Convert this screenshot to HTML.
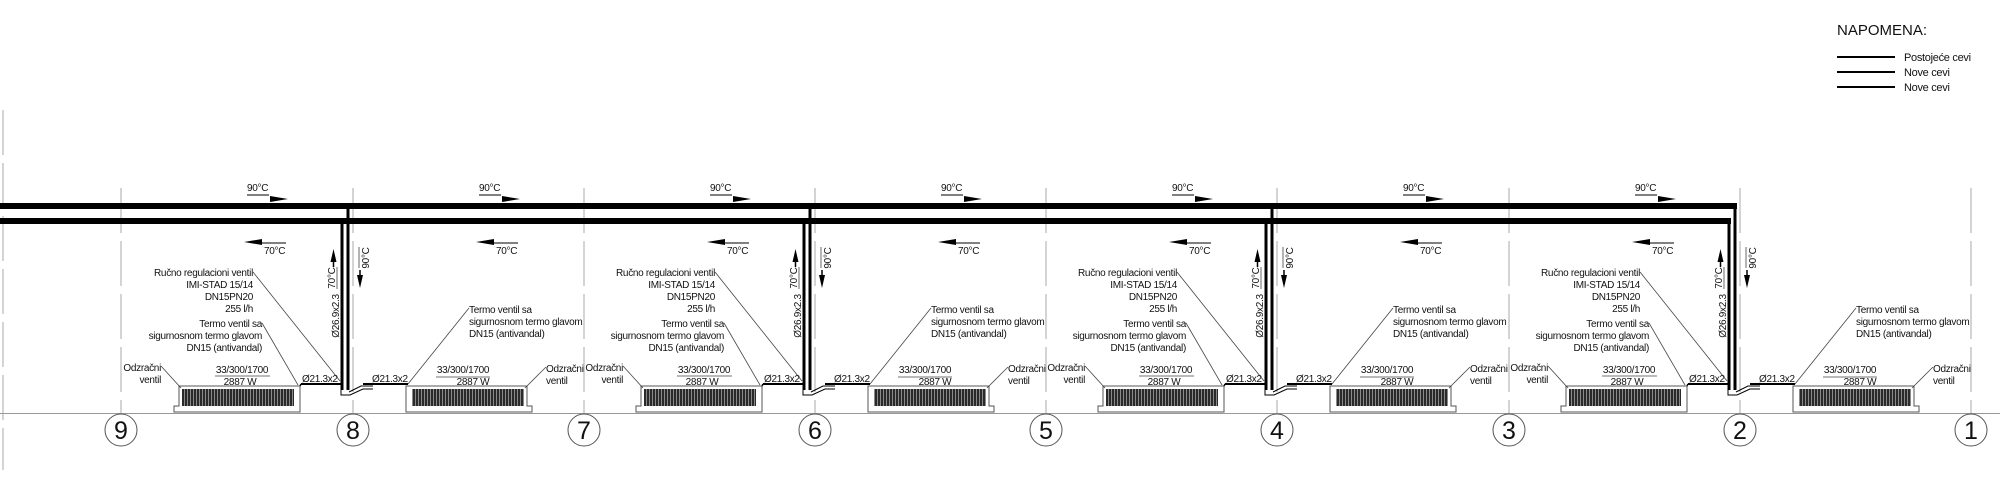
<!DOCTYPE html>
<html><head><meta charset="utf-8"><style>
html,body{margin:0;padding:0;background:#fff}
svg{display:block}
text{font-family:"Liberation Sans",sans-serif;font-size:10px;letter-spacing:-0.3px;fill:#111}
</style></head><body>
<svg width="2000" height="486" viewBox="0 0 2000 486" xmlns="http://www.w3.org/2000/svg">
<defs>
<pattern id="h" width="3" height="10" patternUnits="userSpaceOnUse"><rect width="3" height="10" fill="#2a2a2a"/><rect x="2" width="1" height="10" fill="#8a8a8a"/></pattern>
</defs>
<g stroke="#aaa" stroke-width="1" stroke-dasharray="45 8">
<line x1="3" y1="110" x2="3" y2="470"/>
<line x1="121" y1="188" x2="121" y2="413"/><line x1="353" y1="188" x2="353" y2="413"/><line x1="584" y1="188" x2="584" y2="413"/><line x1="815" y1="188" x2="815" y2="413"/><line x1="1046" y1="188" x2="1046" y2="413"/><line x1="1277" y1="188" x2="1277" y2="413"/><line x1="1509" y1="188" x2="1509" y2="413"/><line x1="1740" y1="188" x2="1740" y2="413"/><line x1="1971" y1="188" x2="1971" y2="413"/>
</g>
<line x1="0" y1="413.5" x2="2000" y2="413.5" stroke="#999" stroke-width="1"/>
<g fill="#fff" stroke="#555" stroke-width="1">
<circle cx="121" cy="430" r="16"/><circle cx="353" cy="430" r="16"/><circle cx="584" cy="430" r="16"/><circle cx="815" cy="430" r="16"/><circle cx="1046" cy="430" r="16"/><circle cx="1277" cy="430" r="16"/><circle cx="1509" cy="430" r="16"/><circle cx="1740" cy="430" r="16"/><circle cx="1971" cy="430" r="16"/>
</g>
<g text-anchor="middle">
<text x="121" y="439" style="font-size:25px;letter-spacing:0">9</text><text x="353" y="439" style="font-size:25px;letter-spacing:0">8</text><text x="584" y="439" style="font-size:25px;letter-spacing:0">7</text><text x="815" y="439" style="font-size:25px;letter-spacing:0">6</text><text x="1046" y="439" style="font-size:25px;letter-spacing:0">5</text><text x="1277" y="439" style="font-size:25px;letter-spacing:0">4</text><text x="1509" y="439" style="font-size:25px;letter-spacing:0">3</text><text x="1740" y="439" style="font-size:25px;letter-spacing:0">2</text><text x="1971" y="439" style="font-size:25px;letter-spacing:0">1</text>
</g>
<rect x="0" y="203" width="1737" height="6" fill="#000"/>
<rect x="0" y="218" width="1731" height="6" fill="#000"/>
<text x="1837" y="35" style="font-size:15px;letter-spacing:0">NAPOMENA:</text>
<g stroke="#000" stroke-width="2"><line x1="1837" y1="57" x2="1895" y2="57"/><line x1="1837" y1="72" x2="1895" y2="72"/><line x1="1837" y1="87" x2="1895" y2="87"/></g>
<text x="1904" y="61" style="font-size:11px">Postojeće cevi</text>
<text x="1904" y="76" style="font-size:11px">Nove cevi</text>
<text x="1904" y="91" style="font-size:11px">Nove cevi</text>

<g transform="translate(121,0)"><text x="126" y="191">90°C</text><line x1="126" y1="195" x2="148" y2="195" stroke="#000"/><polygon points="149,196 167,199 149,202" fill="#000"/><polygon points="123,242 141,239 141,245" fill="#000"/><line x1="141" y1="243" x2="165" y2="243" stroke="#000"/><text x="143" y="254">70°C</text></g>
<g transform="translate(353,0)"><text x="126" y="191">90°C</text><line x1="126" y1="195" x2="148" y2="195" stroke="#000"/><polygon points="149,196 167,199 149,202" fill="#000"/><polygon points="123,242 141,239 141,245" fill="#000"/><line x1="141" y1="243" x2="165" y2="243" stroke="#000"/><text x="143" y="254">70°C</text></g>
<g transform="translate(584,0)"><text x="126" y="191">90°C</text><line x1="126" y1="195" x2="148" y2="195" stroke="#000"/><polygon points="149,196 167,199 149,202" fill="#000"/><polygon points="123,242 141,239 141,245" fill="#000"/><line x1="141" y1="243" x2="165" y2="243" stroke="#000"/><text x="143" y="254">70°C</text></g>
<g transform="translate(815,0)"><text x="126" y="191">90°C</text><line x1="126" y1="195" x2="148" y2="195" stroke="#000"/><polygon points="149,196 167,199 149,202" fill="#000"/><polygon points="123,242 141,239 141,245" fill="#000"/><line x1="141" y1="243" x2="165" y2="243" stroke="#000"/><text x="143" y="254">70°C</text></g>
<g transform="translate(1046,0)"><text x="126" y="191">90°C</text><line x1="126" y1="195" x2="148" y2="195" stroke="#000"/><polygon points="149,196 167,199 149,202" fill="#000"/><polygon points="123,242 141,239 141,245" fill="#000"/><line x1="141" y1="243" x2="165" y2="243" stroke="#000"/><text x="143" y="254">70°C</text></g>
<g transform="translate(1277,0)"><text x="126" y="191">90°C</text><line x1="126" y1="195" x2="148" y2="195" stroke="#000"/><polygon points="149,196 167,199 149,202" fill="#000"/><polygon points="123,242 141,239 141,245" fill="#000"/><line x1="141" y1="243" x2="165" y2="243" stroke="#000"/><text x="143" y="254">70°C</text></g>
<g transform="translate(1509,0)"><text x="126" y="191">90°C</text><line x1="126" y1="195" x2="148" y2="195" stroke="#000"/><polygon points="149,196 167,199 149,202" fill="#000"/><polygon points="123,242 141,239 141,245" fill="#000"/><line x1="141" y1="243" x2="165" y2="243" stroke="#000"/><text x="143" y="254">70°C</text></g>

<defs>
<g id="geo">
<line x1="-11" y1="222" x2="-11" y2="390" stroke="#000" stroke-width="3"/>
<line x1="-5" y1="207" x2="-5" y2="390" stroke="#000" stroke-width="3"/>
<path d="M-12,383 V395 H-3 L10,389 H20" fill="none" stroke="#000" stroke-width="1"/>
<path d="M-4,392 L8,386 H20" fill="none" stroke="#000" stroke-width="1"/>
<line x1="-52" y1="384" x2="-11" y2="384" stroke="#000" stroke-width="2"/>
<line x1="-52" y1="384" x2="-54" y2="388" stroke="#000" stroke-width="1.5"/>
<line x1="10" y1="384" x2="55" y2="384" stroke="#000" stroke-width="2"/>
<path d="M53,386 H174 V406 H179 V412 H53 Z" fill="#fff" stroke="#555" stroke-width="1"/>
<rect x="59" y="389" width="112" height="17" fill="url(#h)"/>
<path d="M-53,386 H-174 V406 H-179 V412 H-53 Z" fill="#fff" stroke="#555" stroke-width="1"/>
<rect x="-171" y="389" width="112" height="17" fill="url(#h)"/>
<g stroke="#444" stroke-width="0.8">
<line x1="-100" y1="272" x2="-13" y2="381"/>
<line x1="-91" y1="323" x2="-55" y2="385"/>
<line x1="-192" y1="366" x2="-172" y2="388"/>
<line x1="116" y1="308" x2="55" y2="384"/>
<line x1="193" y1="367" x2="172" y2="388"/>
<line x1="-138" y1="376" x2="-83" y2="376"/>
<line x1="83" y1="377" x2="137" y2="377"/>
<line x1="-16" y1="267" x2="-16" y2="289"/>
<line x1="6" y1="247" x2="6" y2="268"/>
</g>
<polygon points="-19.5,249 -22.5,262 -16.5,262" fill="#000"/><line x1="-19.5" y1="260" x2="-19.5" y2="267" stroke="#000" stroke-width="1.5"/>
<polygon points="7,288 4,275 10,275" fill="#000"/><line x1="7" y1="270" x2="7" y2="277" stroke="#000" stroke-width="1.5"/>
</g>
</defs>
<use href="#geo" x="353" y="0"/>
<use href="#geo" x="815" y="0"/>
<use href="#geo" x="1277" y="0"/>
<use href="#geo" x="1740" y="0"/>

<g transform="translate(353,0)">
<g text-anchor="end"><text x="-100" y="276">Ručno regulacioni ventil</text><text x="-100" y="288">IMI-STAD 15/14</text><text x="-100" y="300">DN15PN20</text><text x="-100" y="312">255 l/h</text>
<text x="-91" y="327">Termo ventil sa</text><text x="-91" y="339">sigurnosnom termo glavom</text><text x="-91" y="351">DN15 (antivandal)</text>
<text x="-192" y="371">Odzračni</text><text x="-192" y="383">ventil</text></g>
<g text-anchor="middle"><text x="-111" y="373">33/300/1700</text><text x="-113" y="385">2887 W</text><text x="110" y="373">33/300/1700</text><text x="120" y="385">2887 W</text></g>
<text x="116" y="313">Termo ventil sa</text><text x="116" y="325">sigurnosnom termo glavom</text><text x="116" y="337">DN15 (antivandal)</text>
<text x="193" y="372">Odzračni</text><text x="193" y="384">ventil</text>
<text x="-51" y="382">Ø21.3x2</text><text x="19" y="382">Ø21.3x2</text>
<text transform="translate(-14,316) rotate(-90)" text-anchor="middle">Ø26.9x2.3</text>
<text transform="translate(-18,278) rotate(-90)" text-anchor="middle">70°C</text>
<text transform="translate(16,258) rotate(-90)" text-anchor="middle">90°C</text>
</g>
<g transform="translate(815,0)">
<g text-anchor="end"><text x="-100" y="276">Ručno regulacioni ventil</text><text x="-100" y="288">IMI-STAD 15/14</text><text x="-100" y="300">DN15PN20</text><text x="-100" y="312">255 l/h</text>
<text x="-91" y="327">Termo ventil sa</text><text x="-91" y="339">sigurnosnom termo glavom</text><text x="-91" y="351">DN15 (antivandal)</text>
<text x="-192" y="371">Odzračni</text><text x="-192" y="383">ventil</text></g>
<g text-anchor="middle"><text x="-111" y="373">33/300/1700</text><text x="-113" y="385">2887 W</text><text x="110" y="373">33/300/1700</text><text x="120" y="385">2887 W</text></g>
<text x="116" y="313">Termo ventil sa</text><text x="116" y="325">sigurnosnom termo glavom</text><text x="116" y="337">DN15 (antivandal)</text>
<text x="193" y="372">Odzračni</text><text x="193" y="384">ventil</text>
<text x="-51" y="382">Ø21.3x2</text><text x="19" y="382">Ø21.3x2</text>
<text transform="translate(-14,316) rotate(-90)" text-anchor="middle">Ø26.9x2.3</text>
<text transform="translate(-18,278) rotate(-90)" text-anchor="middle">70°C</text>
<text transform="translate(16,258) rotate(-90)" text-anchor="middle">90°C</text>
</g>
<g transform="translate(1277,0)">
<g text-anchor="end"><text x="-100" y="276">Ručno regulacioni ventil</text><text x="-100" y="288">IMI-STAD 15/14</text><text x="-100" y="300">DN15PN20</text><text x="-100" y="312">255 l/h</text>
<text x="-91" y="327">Termo ventil sa</text><text x="-91" y="339">sigurnosnom termo glavom</text><text x="-91" y="351">DN15 (antivandal)</text>
<text x="-192" y="371">Odzračni</text><text x="-192" y="383">ventil</text></g>
<g text-anchor="middle"><text x="-111" y="373">33/300/1700</text><text x="-113" y="385">2887 W</text><text x="110" y="373">33/300/1700</text><text x="120" y="385">2887 W</text></g>
<text x="116" y="313">Termo ventil sa</text><text x="116" y="325">sigurnosnom termo glavom</text><text x="116" y="337">DN15 (antivandal)</text>
<text x="193" y="372">Odzračni</text><text x="193" y="384">ventil</text>
<text x="-51" y="382">Ø21.3x2</text><text x="19" y="382">Ø21.3x2</text>
<text transform="translate(-14,316) rotate(-90)" text-anchor="middle">Ø26.9x2.3</text>
<text transform="translate(-18,278) rotate(-90)" text-anchor="middle">70°C</text>
<text transform="translate(16,258) rotate(-90)" text-anchor="middle">90°C</text>
</g>
<g transform="translate(1740,0)">
<g text-anchor="end"><text x="-100" y="276">Ručno regulacioni ventil</text><text x="-100" y="288">IMI-STAD 15/14</text><text x="-100" y="300">DN15PN20</text><text x="-100" y="312">255 l/h</text>
<text x="-91" y="327">Termo ventil sa</text><text x="-91" y="339">sigurnosnom termo glavom</text><text x="-91" y="351">DN15 (antivandal)</text>
<text x="-192" y="371">Odzračni</text><text x="-192" y="383">ventil</text></g>
<g text-anchor="middle"><text x="-111" y="373">33/300/1700</text><text x="-113" y="385">2887 W</text><text x="110" y="373">33/300/1700</text><text x="120" y="385">2887 W</text></g>
<text x="116" y="313">Termo ventil sa</text><text x="116" y="325">sigurnosnom termo glavom</text><text x="116" y="337">DN15 (antivandal)</text>
<text x="193" y="372">Odzračni</text><text x="193" y="384">ventil</text>
<text x="-51" y="382">Ø21.3x2</text><text x="19" y="382">Ø21.3x2</text>
<text transform="translate(-14,316) rotate(-90)" text-anchor="middle">Ø26.9x2.3</text>
<text transform="translate(-18,278) rotate(-90)" text-anchor="middle">70°C</text>
<text transform="translate(16,258) rotate(-90)" text-anchor="middle">90°C</text>
</g>
</svg>
</body></html>
